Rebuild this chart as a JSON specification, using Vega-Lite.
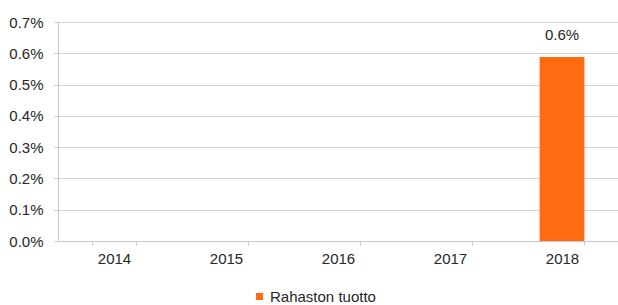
{
  "$schema": "https://vega.github.io/schema/vega-lite/v6.json",
  "width": 560,
  "height": 219,
  "autosize": {"type": "none"},
  "padding": {"left": 58, "top": 22, "right": 0, "bottom": 64},
  "background": "white",
  "config": {
    "view": {"stroke": null},
    "font": "Liberation Sans",
    "axis": {"labelFont": "Liberation Sans", "labelColor": "#262626", "domainColor": "#c8c8c8", "tickColor": "#c8c8c8", "gridColor": "#d4d4d4"}
  },
  "data": {
    "values": [
      {"year": "2014", "value": null, "series": "Rahaston tuotto"},
      {"year": "2015", "value": null, "series": "Rahaston tuotto"},
      {"year": "2016", "value": null, "series": "Rahaston tuotto"},
      {"year": "2017", "value": null, "series": "Rahaston tuotto"},
      {"year": "2018", "value": 0.00588, "series": "Rahaston tuotto"}
    ]
  },
  "encoding": {
    "x": {
      "field": "year", "type": "nominal",
      "scale": {"domain": ["2014", "2015", "2016", "2017", "2018"], "paddingInner": 0.6, "paddingOuter": 0.3},
      "axis": {"title": null, "labelAngle": 0, "labelFontSize": 15, "tickSize": 4, "labelPadding": 6, "tickBand": "extent", "grid": false}
    },
    "y": {
      "field": "value", "type": "quantitative",
      "scale": {"domain": [0, 0.007], "nice": false},
      "axis": {"title": null, "format": ".1%", "values": [0, 0.001, 0.002, 0.003, 0.004, 0.005, 0.006, 0.007], "labelFontSize": 15, "tickSize": 4, "labelPadding": 11, "grid": true, "domain": true}
    }
  },
  "layer": [
    {
      "mark": {"type": "bar", "color": "#FF6B12"},
      "encoding": {
        "color": {
          "field": "series", "type": "nominal",
          "scale": {"range": ["#FF6B12"]},
          "legend": {"title": null, "orient": "none", "legendX": 194, "legendY": 267, "symbolType": "square", "symbolSize": 50, "labelFontSize": 15, "labelColor": "#262626", "labelOffset": 3, "direction": "horizontal"}
        }
      }
    },
    {
      "mark": {"type": "text", "dy": -14, "fontSize": 15, "color": "#262626", "baseline": "bottom"},
      "encoding": {
        "text": {"field": "value", "type": "quantitative", "format": ".1%"}
      }
    }
  ]
}
